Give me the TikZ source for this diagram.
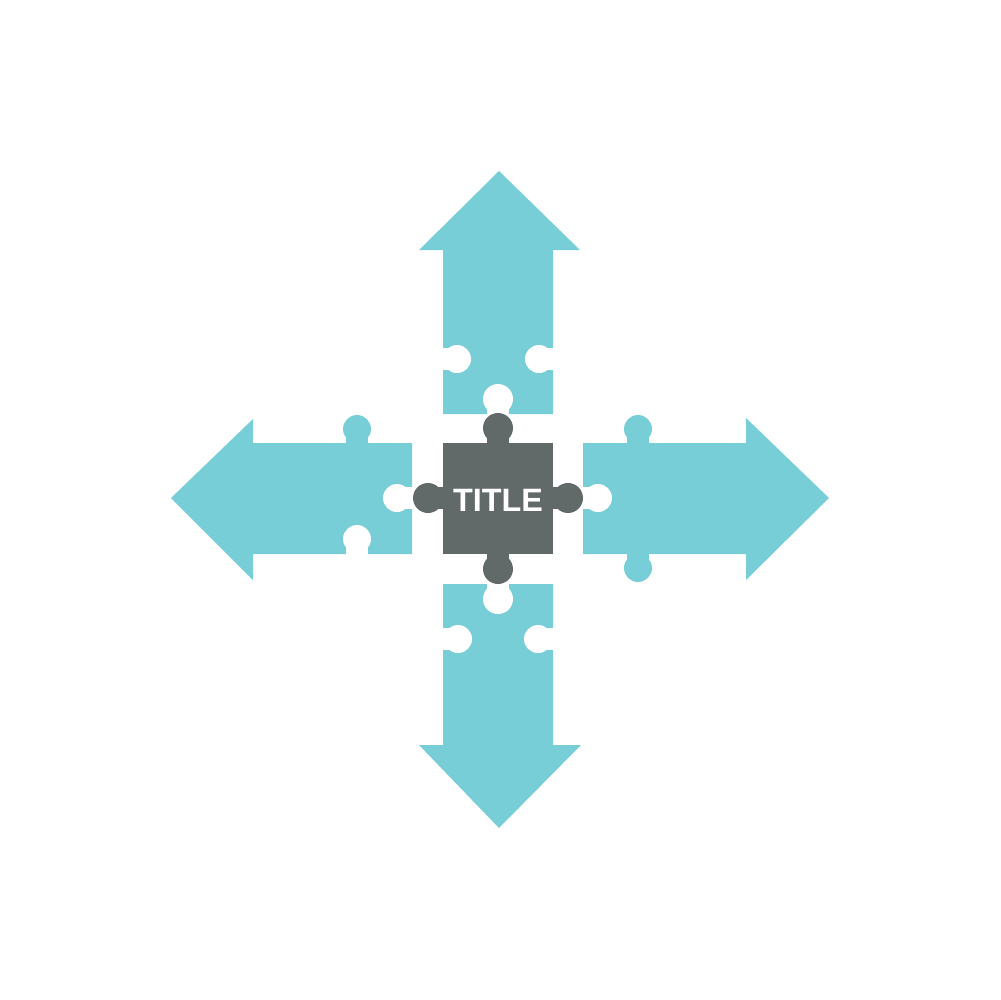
\documentclass[tikz,border=0pt]{standalone}
\usepackage{fontspec}
\setmainfont{Liberation Sans}
\usepackage{tikz}
\usetikzlibrary{positioning}

\definecolor{piececyan}{HTML}{78CED7}
\definecolor{piecegrey}{HTML}{626A69}

\begin{document}
\begin{tikzpicture}[x=0.1mm, y=-0.1mm,
piece/.style={fill=piececyan},
hole/.style={fill=white},
centre/.style={fill=piecegrey}]

\useasboundingbox (0,0) rectangle (1000,1000);

% top arrow
\fill [piece] (443,414) -- (443,250) -- (419,250) -- (499,171) -- (580,250)
  -- (553,250) -- (553,414) -- cycle;
\fill [hole] (498,399) circle [radius=15]; \fill [hole] (487,399) rectangle (509,415);
\fill [hole] (457,359) circle [radius=14]; \fill [hole] (442,348) rectangle (457,370);
\fill [hole] (539,359) circle [radius=14]; \fill [hole] (539,348) rectangle (554,370);

% left arrow
\fill [piece] (412,443) -- (253,443) -- (253,419) -- (171,498) -- (253,580)
  -- (253,554) -- (412,554) -- cycle;
\fill [piece] (357,429) circle [radius=14]; \fill [piece] (346,429) rectangle (368,444);
\fill [hole] (357,539) circle [radius=14]; \fill [hole] (346,539) rectangle (368,555);
\fill [hole] (397,498) circle [radius=14]; \fill [hole] (397,487) rectangle (413,509);

% right arrow
\fill [piece] (583,443) -- (746,443) -- (746,418) -- (829,498) -- (746,580)
  -- (746,554) -- (583,554) -- cycle;
\fill [piece] (638,429) circle [radius=14]; \fill [piece] (627,429) rectangle (649,444);
\fill [piece] (638,568) circle [radius=14]; \fill [piece] (627,553) rectangle (649,568);
\fill [hole] (598,498) circle [radius=14]; \fill [hole] (582,487) rectangle (598,509);

% bottom arrow
\fill [piece] (443,584) -- (553,584) -- (553,745) -- (581,745) -- (499,828)
  -- (419,745) -- (443,745) -- cycle;
\fill [hole] (498,599) circle [radius=15]; \fill [hole] (487,583) rectangle (509,599);
\fill [hole] (458,639) circle [radius=14]; \fill [hole] (442,628) rectangle (458,650);
\fill [hole] (538,639) circle [radius=14]; \fill [hole] (538,628) rectangle (554,650);

% centre piece
\fill [centre] (443,443) rectangle (553,554);
\fill [centre] (498,428) circle [radius=15]; \fill [centre] (487,428) rectangle (509,444);
\fill [centre] (498,569) circle [radius=15]; \fill [centre] (487,553) rectangle (509,569);
\fill [centre] (428,498) circle [radius=15]; \fill [centre] (428,487) rectangle (444,509);
\fill [centre] (568,498) circle [radius=15]; \fill [centre] (552,487) rectangle (568,509);

\node (title) at (498,500) [text=white, font=\fontsize{9.2}{11}\selectfont\bfseries] {TITLE};

\end{tikzpicture}
\end{document}
